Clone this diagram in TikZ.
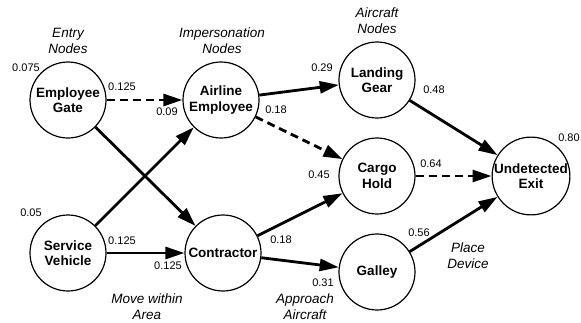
\documentclass[tikz,border=0pt]{standalone}
\usepackage{fontspec}
\setmainfont{Liberation Sans}
\usetikzlibrary{arrows.meta}
\begin{document}
\begin{tikzpicture}[x=1pt,y=-1pt,
  state/.style={circle,draw,line width=1.2pt,minimum size=76pt,inner sep=0pt,
    align=center,font=\fontsize{13.5}{15.5}\selectfont\bfseries},
  flow/.style={line width=2.8pt,-{Triangle[length=19pt,width=12pt]}},
  weak/.style={flow,dash pattern=on 8pt off 5pt},
  prob/.style={font=\fontsize{11}{13}\selectfont,inner sep=0pt},
  stage/.style={font=\fontsize{13.5}{16}\selectfont\itshape,align=center,inner sep=0pt}]
\useasboundingbox (0,0) rectangle (581,322);

% attack-path states
\node[state] (eg) at (68,100)  {Employee\\Gate};
\node[state] (sv) at (68,253)  {Service\\Vehicle};
\node[state] (ae) at (221,100) {Airline\\Employee};
\node[state] (co) at (223,253) {Contractor};
\node[state] (lg) at (377,80)  {Landing\\Gear};
\node[state] (ch) at (377,176) {Cargo\\Hold};
\node[state] (ga) at (377,272) {Galley};
\node[state] (ue) at (531,176) {Undetected\\Exit};

% transitions
\draw[weak] (eg) -- (ae);
\draw[flow] (eg) -- (co);
\draw[flow] (sv) -- (ae);
\draw[flow] (sv) -- (co);
\draw[flow] (ae) -- (lg);
\draw[weak] (ae) -- (ch);
\draw[flow] (co) -- (ch);
\draw[flow] (co) -- (ga);
\draw[flow] (lg) -- (ue);
\draw[weak] (ch) -- (ue);
\draw[flow] (ga) -- (ue);

% stage captions
\node[stage] (capEntry)  at (68,41)  {Entry\\Nodes};
\node[stage] (capImp)    at (222,41) {Impersonation\\Nodes};
\node[stage] (capAir)    at (377,21) {Aircraft\\Nodes};
\node[stage] (capMove)   at (147,307) {Move within\\Area};
\node[stage] (capAppr)   at (305,307) {Approach\\Aircraft};
\node[stage] (capPlace)  at (468,256) {Place\\Device};

% probabilities
\node[prob] (p1)  at (26,68)   {0.075};
\node[prob] (p2)  at (122,87)  {0.125};
\node[prob] (p3)  at (167,112) {0.09};
\node[prob] (p4)  at (276,110) {0.18};
\node[prob] (p5)  at (322,68)  {0.29};
\node[prob] (p6)  at (434,90)  {0.48};
\node[prob] (p7)  at (569,138) {0.80};
\node[prob] (p8)  at (319,175) {0.45};
\node[prob] (p9)  at (431,164) {0.64};
\node[prob] (p10) at (419,233) {0.56};
\node[prob] (p11) at (323,283) {0.31};
\node[prob] (p12) at (31,213)  {0.05};
\node[prob] (p13) at (122,241) {0.125};
\node[prob] (p14) at (168,266) {0.125};
\node[prob] (p15) at (281,240) {0.18};
\end{tikzpicture}
\end{document}
